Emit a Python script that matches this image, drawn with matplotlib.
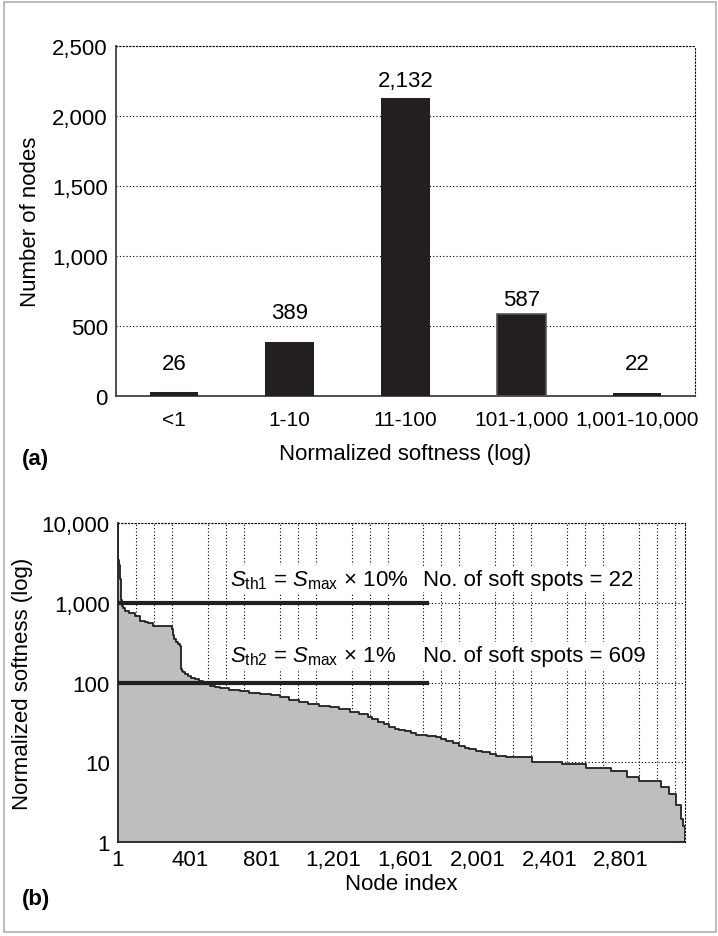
import matplotlib
matplotlib.use("Agg")
import matplotlib.pyplot as plt
from matplotlib.patches import Rectangle
from matplotlib.ticker import FixedLocator, FuncFormatter, NullLocator

plt.rcParams['font.family'] = ['Liberation Sans', 'DejaVu Sans']
plt.rcParams['mathtext.fontset'] = 'custom'
plt.rcParams['mathtext.rm'] = 'Liberation Sans'
plt.rcParams['mathtext.it'] = 'Liberation Sans:italic'

# (a) histogram of normalized softness
bins = ['<1', '1-10', '11-100', '101-1,000', '1,001-10,000']
counts = [26, 389, 2132, 587, 22]

# (b) sorted softness per node (step curve)
node_start = [1, 2, 8, 12, 16, 20, 23, 30, 39, 60,
              94, 122, 150, 167, 194, 300, 308, 313, 325, 333,
              345, 351, 356, 361, 375, 389, 410, 428, 450, 472,
              490, 511, 540, 567, 620, 678, 730, 789, 850, 900,
              950, 1011, 1060, 1122, 1180, 1233, 1290, 1344, 1390, 1417,
              1450, 1480, 1511, 1545, 1567, 1600, 1630, 1662, 1720, 1773,
              1800, 1829, 1865, 1901, 1930, 1957, 1995, 2029, 2070, 2107,
              2162, 2307, 2473, 2607, 2745, 2834, 2901, 3023, 3068, 3107,
              3134, 3146]
softness = [10000, 3400, 3000, 2000, 1400, 1100, 920, 860, 800, 740,
            690, 594, 570, 557, 513, 468, 400, 351, 320, 302,
            290, 148, 140, 135, 128, 121, 115, 110, 105, 101,
            95, 90, 87, 85, 81, 78, 75, 72, 69, 66,
            61, 57, 54, 51, 49, 47, 43, 40, 37, 35,
            32, 30, 27.6, 26, 25.5, 24.5, 23, 22, 21.5, 20.7,
            19.5, 18.6, 17.2, 16.1, 15.3, 14.7, 14, 13.4, 12.7, 12.1,
            11.7, 10.1, 9.5, 8.6, 7.8, 6.5, 5.9, 4.9, 4.0, 2.9,
            1.94, 1.6]
n_nodes = sum(counts)
thresholds = [1000, 100]
thr_labels = [r'$\mathit{S}_{\rm th1}$ = $\mathit{S}_{\rm max}$ × 10%',
              r'$\mathit{S}_{\rm th2}$ = $\mathit{S}_{\rm max}$ × 1%']
soft_spots = [22, 609]
x_ticks = [1, 401, 801, 1201, 1601, 2001, 2401, 2801]

FS = 16
dotted = (0, (1, 2))

fig = plt.figure(figsize=(7.18, 9.37), dpi=100)
fig.patches.append(Rectangle((0.005, 0.004), 0.992, 0.993, transform=fig.transFigure,
                             fill=False, edgecolor='#b0b0b0', lw=1.2))

# ---------------- panel (a)
ax = fig.add_axes([0.1616, 0.5763, 0.8064, 0.3735])
xpos = list(range(len(bins)))
bars = ax.bar(xpos, counts, width=0.42, color='#231f20', zorder=3)
bars[3].set_edgecolor('#555555')
bars[3].set_linewidth(1.2)
label_off = [21, 21, 12, 10.5, 21]
for x, c, off in zip(xpos, counts, label_off):
    ax.annotate(f'{c:,}', (x, c), xytext=(0, off), textcoords='offset points',
                ha='center', va='center', fontsize=FS)
ax.set_xlim(-0.5, 4.5)
ax.set_ylim(0, 2500)
ax.set_yticks([0, 500, 1000, 1500, 2000, 2500])
ax.yaxis.set_major_formatter(FuncFormatter(lambda v, p: f'{v:,.0f}'))
ax.set_xticks(xpos)
ax.set_xticklabels(bins)
ax.tick_params(length=0, labelsize=FS)
ax.tick_params(axis='x', pad=10, labelsize=15)
ax.tick_params(axis='y', pad=6)
ax.grid(axis='y', linestyle=dotted, color='black', lw=0.8)
for s in ['top', 'right']:
    ax.spines[s].set_linestyle(dotted)
    ax.spines[s].set_linewidth(0.8)
for s in ['left', 'bottom']:
    ax.spines[s].set_color('#404040')
    ax.spines[s].set_linewidth(1.3)
ax.set_ylabel('Number of nodes', fontsize=FS, labelpad=8)
ax.set_xlabel('Normalized softness (log)', fontsize=FS, labelpad=10)
fig.text(22 / 718, 1 - 459 / 937, '(a)', fontsize=FS, fontweight='bold', va='center')

# ---------------- panel (b)
bx = fig.add_axes([0.1643, 0.1003, 0.7897, 0.3404])
xs = node_start + [n_nodes]
ys = softness + [softness[-1]]
bx.fill_between(xs, ys, 1, step='post', color='#bcbec0', lw=0, zorder=2)
bx.step(xs, ys, where='post', color='#231f20', lw=1.3, zorder=3)
bx.vlines(n_nodes, 1, softness[-1], color='#231f20', lw=1.3, zorder=3)
bx.set_yscale('log')
bx.set_ylim(1, 10000)
bx.set_xlim(1, n_nodes)
bx.yaxis.set_major_locator(FixedLocator([1, 10, 100, 1000, 10000]))
bx.yaxis.set_minor_locator(NullLocator())
bx.yaxis.set_major_formatter(FuncFormatter(lambda v, p: f'{v:,.0f}'))
bx.set_xticks(x_ticks)
bx.set_xticklabels([f'{t:,}' for t in x_ticks])
bx.set_xticks(list(range(101, n_nodes, 100)), minor=True)
bx.tick_params(which='both', length=0, labelsize=FS)
bx.tick_params(axis='x', pad=5)
bx.tick_params(axis='y', pad=6)
bx.grid(axis='y', which='major', linestyle=dotted, color='black', lw=0.8, zorder=1)
bx.grid(axis='x', which='minor', linestyle=dotted, color='black', lw=0.8, zorder=1)
bx.set_axisbelow(True)
for s in ['top', 'right']:
    bx.spines[s].set_linestyle(dotted)
    bx.spines[s].set_linewidth(0.8)
for s in ['left', 'bottom']:
    bx.spines[s].set_color('#231f20')
    bx.spines[s].set_linewidth(1.3)

bx.hlines(thresholds, 1, 1730, color='#231f20', lw=3, zorder=4)
for thr, lab, n, yy in zip(thresholds, thr_labels, soft_spots, [0.824, 0.585]):
    bx.text(0.197, yy, lab, transform=bx.transAxes, fontsize=FS, va='center',
            bbox=dict(facecolor='white', edgecolor='none', pad=2), zorder=5)
    bx.text(0.538, yy, f'No. of soft spots = {n}', transform=bx.transAxes, fontsize=FS,
            va='center', bbox=dict(facecolor='white', edgecolor='none', pad=2), zorder=5)

bx.set_ylabel('Normalized softness (log)', fontsize=FS, labelpad=6)
bx.set_xlabel('Node index', fontsize=FS, labelpad=2)
fig.text(22 / 718, 1 - 900 / 937, '(b)', fontsize=FS, fontweight='bold', va='center')

fig.savefig('out.png', dpi=100)
